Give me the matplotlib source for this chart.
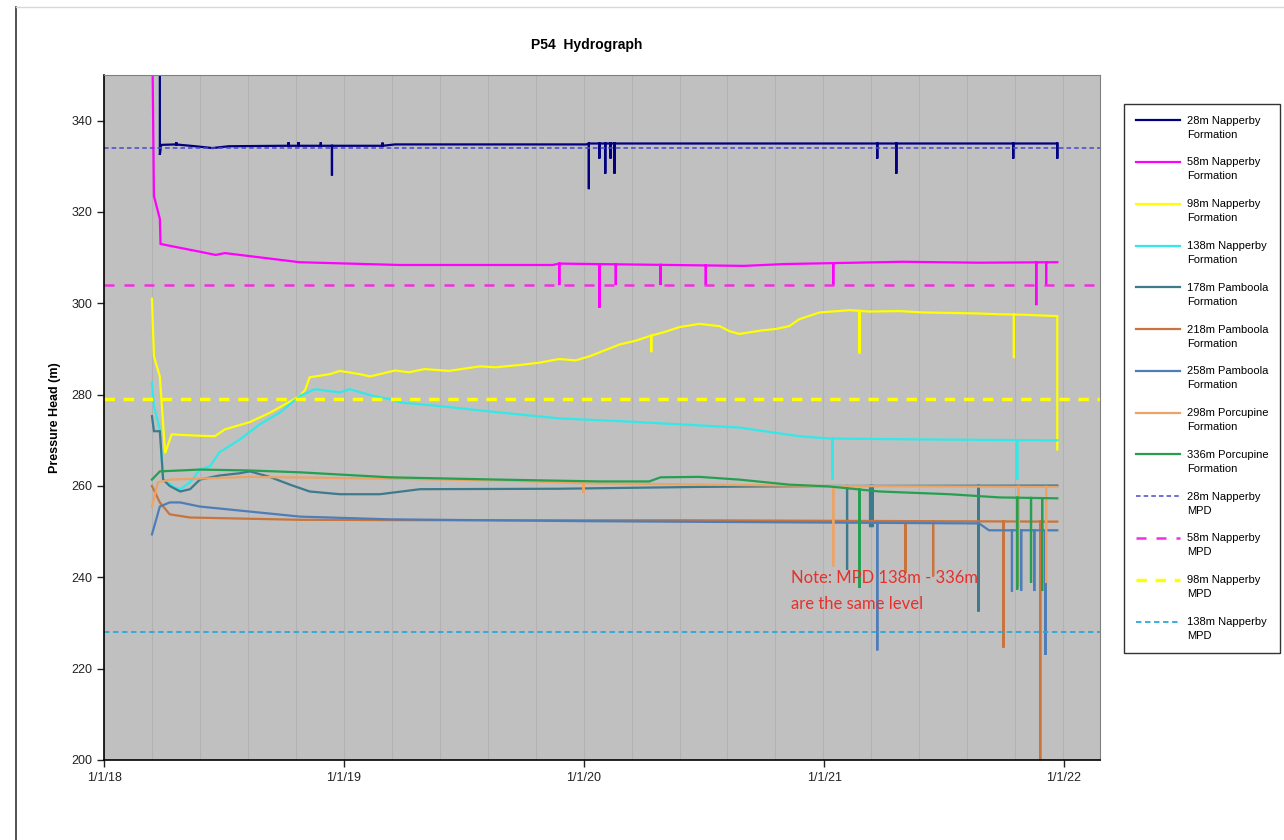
import numpy as np
import matplotlib
matplotlib.use("Agg")
import matplotlib.pyplot as plt
import matplotlib.dates as mdates
from matplotlib.lines import Line2D

plt.rcParams['font.family'] = ['Liberation Sans', 'DejaVu Sans']

s28_dates = ["2018-03-27", "2018-03-27", "2018-03-29", "2018-04-20", "2018-05-20", "2018-06-15",
             "2018-07-10", "2018-10-01", "2019-03-01", "2019-03-20", "2020-01-05", "2020-01-09", "2021-12-22"]
s28_vals = [362, 332.5, 334.7, 334.8, 334.4, 334.0, 334.4, 334.5, 334.5, 334.8, 334.8, 335.0, 335.0]
s28_spike_dates = ["2018-04-21", "2018-10-09", "2018-10-24", "2018-11-27", "2018-12-14", "2019-03-01",
                   "2020-01-09", "2020-01-25", "2020-02-03", "2020-02-11", "2020-02-17",
                   "2021-03-23", "2021-04-21", "2021-10-16", "2021-12-22"]
s28_spike_vals = [335.3, 335.3, 335.3, 335.3, 328.0, 335.2,
                  325.0, 331.7, 328.4, 331.7, 328.4, 331.7, 328.4, 331.7, 331.7]

s58_dates = ["2018-03-15", "2018-03-18", "2018-03-27", "2018-03-28", "2018-05-27", "2018-06-20",
             "2018-07-04", "2018-10-26", "2019-03-27", "2019-11-15", "2019-11-25", "2020-09-01",
             "2020-11-01", "2021-04-30", "2021-08-25", "2021-12-22"]
s58_vals = [365, 323.5, 318.5, 313.0, 311.3, 310.6, 311.0, 309.0, 308.4, 308.4, 308.7, 308.2,
            308.6, 309.1, 308.9, 309.0]
s58_spike_dates = ["2019-11-25", "2020-01-25", "2020-02-19", "2020-04-27", "2020-07-05",
                   "2021-01-15", "2021-11-20", "2021-12-05"]
s58_spike_vals = [304, 299, 304, 304, 304, 304, 299.6, 304]

s98_dates = ["2018-03-15", "2018-03-18", "2018-03-27", "2018-04-04", "2018-04-14", "2018-05-27",
             "2018-06-19", "2018-07-04", "2018-08-11", "2018-09-10", "2018-10-26", "2018-11-03",
             "2018-11-10", "2018-12-11", "2018-12-26", "2019-01-25", "2019-02-10", "2019-02-25",
             "2019-03-20", "2019-04-10", "2019-05-04", "2019-06-10", "2019-07-27", "2019-08-20",
             "2019-09-26", "2019-10-25", "2019-11-25", "2019-12-20", "2020-01-10", "2020-02-25",
             "2020-03-20", "2020-04-10", "2020-05-05", "2020-05-26", "2020-06-25", "2020-07-26",
             "2020-08-10", "2020-08-25", "2020-09-25", "2020-10-20", "2020-11-09", "2020-11-24",
             "2020-12-25", "2021-02-09", "2021-03-10", "2021-04-26", "2021-06-01", "2021-07-11",
             "2021-08-20", "2021-09-25", "2021-11-01", "2021-12-22", "2021-12-22"]
s98_vals = [301, 288.4, 284.0, 267.2, 271.3, 271.0, 270.9, 272.4, 274.0, 276.0, 279.7, 281.0,
            283.8, 284.5, 285.2, 284.5, 284.0, 284.5, 285.3, 284.9, 285.6, 285.2, 286.2, 286.0,
            286.5, 287.0, 287.8, 287.5, 288.4, 291.0, 291.8, 292.8, 293.8, 294.8, 295.5, 295.0,
            293.9, 293.3, 294.0, 294.4, 295.0, 296.5, 298.0, 298.5, 298.2, 298.3, 298.0, 297.9,
            297.8, 297.6, 297.5, 297.2, 268.0]
s98_spike_dates = ["2020-04-13", "2021-02-24", "2021-10-17"]
s98_spike_vals = [289.3, 289.0, 288.0]

s138_dates = ["2018-03-15", "2018-03-18", "2018-03-27", "2018-04-01", "2018-04-19", "2018-04-27",
              "2018-05-12", "2018-05-27", "2018-06-11", "2018-06-26", "2018-07-27", "2018-08-26",
              "2018-09-26", "2018-10-26", "2018-11-18", "2018-12-26", "2019-01-10", "2019-02-10",
              "2019-03-12", "2019-03-27", "2019-05-27", "2019-08-26", "2019-11-25", "2020-02-25",
              "2020-05-26", "2020-08-25", "2020-11-24", "2021-01-09", "2021-05-26", "2021-12-22"]
s138_vals = [282.7, 277.5, 272.4, 261.4, 259.7, 259.3, 260.8, 263.6, 264.3, 267.4, 270.2, 273.5,
             276.1, 279.7, 281.2, 280.5, 281.2, 279.9, 279.0, 278.3, 277.5, 276.1, 274.8, 274.2,
             273.5, 272.8, 270.9, 270.4, 270.2, 270.0]
s138_spike_dates = ["2021-01-14", "2021-10-22"]
s138_spike_vals = [261.4, 261.4]

s178_dates = ["2018-03-15", "2018-03-18", "2018-03-27", "2018-04-01", "2018-04-11", "2018-04-27",
              "2018-05-12", "2018-05-27", "2018-06-26", "2018-07-27", "2018-08-11", "2018-09-10",
              "2018-10-11", "2018-11-10", "2018-12-26", "2019-02-25", "2019-04-27", "2019-11-25",
              "2020-06-25", "2021-01-09", "2021-12-22"]
s178_vals = [275.3, 272.0, 272.0, 261.4, 260.0, 258.8, 259.3, 261.4, 262.3, 262.8, 263.2, 262.0,
             260.3, 258.8, 258.2, 258.2, 259.3, 259.4, 259.8, 260.0, 260.1]
s178_spike_dates = ["2021-02-05", "2021-03-12", "2021-03-14", "2021-03-16", "2021-08-24"]
s178_spike_vals = [241.7, 251.0, 251.0, 251.0, 232.5]

s218_dates = ["2018-03-15", "2018-03-27", "2018-04-11", "2018-05-12", "2018-10-26", "2019-06-01",
              "2020-06-01", "2021-06-01", "2021-12-22"]
s218_vals = [260.0, 256.4, 253.8, 253.1, 252.6, 252.5, 252.5, 252.3, 252.2]
s218_spike_dates = ["2021-05-05", "2021-06-16", "2021-10-01", "2021-11-26"]
s218_spike_vals = [241.0, 240.2, 224.6, 200.0]

s258_dates = ["2018-03-15", "2018-03-27", "2018-04-11", "2018-04-27", "2018-05-27", "2018-08-11",
              "2018-10-26", "2019-03-12", "2020-01-01", "2021-01-01", "2021-08-25", "2021-09-09",
              "2021-12-22"]
s258_vals = [249.4, 255.5, 256.4, 256.4, 255.5, 254.4, 253.3, 252.7, 252.3, 252.0, 251.8, 250.3,
             250.3]
s258_spike_dates = ["2021-03-23", "2021-10-14", "2021-10-28", "2021-11-17", "2021-12-04"]
s258_spike_vals = [224.0, 236.9, 237.0, 237.0, 223.0]

s298_dates = ["2018-03-15", "2018-03-24", "2018-04-11", "2018-08-11", "2019-03-12", "2019-09-01",
              "2020-01-01", "2020-09-01", "2021-01-01", "2021-12-22"]
s298_vals = [255.5, 260.8, 261.4, 262.0, 261.6, 261.2, 260.6, 260.2, 260.0, 259.8]
s298_spike_dates = ["2020-01-01", "2021-01-15", "2021-10-24", "2021-12-05"]
s298_spike_vals = [258.5, 242.4, 238.0, 238.8]

s336_dates = ["2018-03-15", "2018-03-27", "2018-05-27", "2018-08-11", "2018-10-26", "2019-03-12",
              "2019-08-26", "2020-01-25", "2020-04-10", "2020-04-27", "2020-06-25", "2020-08-25",
              "2020-11-09", "2021-01-09", "2021-03-26", "2021-07-11", "2021-09-25", "2021-12-22"]
s336_vals = [261.4, 263.2, 263.6, 263.4, 263.0, 261.9, 261.4, 261.0, 261.0, 261.9, 262.0, 261.4,
             260.3, 259.9, 258.8, 258.2, 257.5, 257.3]
s336_spike_dates = ["2021-02-24", "2021-10-22", "2021-11-12", "2021-11-29"]
s336_spike_vals = [237.7, 237.3, 238.8, 237.0]

mpd_levels = [334.0, 304.0, 279.0, 228.0]

series_labels = ["28m Napperby\nFormation", "58m Napperby\nFormation", "98m Napperby\nFormation",
                 "138m Napperby\nFormation", "178m Pamboola\nFormation", "218m Pamboola\nFormation",
                 "258m Pamboola\nFormation", "298m Porcupine\nFormation", "336m Porcupine\nFormation"]
mpd_labels = ["28m Napperby\nMPD", "58m Napperby\nMPD", "98m Napperby\nMPD", "138m Napperby\nMPD"]

series_colors = ["#000080", "#FF00FF", "#FFFF00", "#33E8E8", "#3D7A8C", "#C8743C",
                 "#4F7DB8", "#EBA366", "#25A050"]
mpd_colors = ["#4A4ACD", "#F030E0", "#FFFF00", "#2AA8D8"]


def with_spikes(dates, vals, sdates, svals):
    # insert vertical spikes (base -> spike -> base) into a series
    x = mdates.datestr2num(dates)
    y = np.array(vals, dtype=float)
    for d, v in zip(mdates.datestr2num(sdates), svals):
        base = np.interp(d, x, y)
        i = np.searchsorted(x, d, side='right')
        x = np.insert(x, i, [d, d, d])
        y = np.insert(y, i, [base, v, base])
    return x, y


all_series = [
    (s28_dates, s28_vals, s28_spike_dates, s28_spike_vals),
    (s58_dates, s58_vals, s58_spike_dates, s58_spike_vals),
    (s98_dates, s98_vals, s98_spike_dates, s98_spike_vals),
    (s138_dates, s138_vals, s138_spike_dates, s138_spike_vals),
    (s178_dates, s178_vals, s178_spike_dates, s178_spike_vals),
    (s218_dates, s218_vals, s218_spike_dates, s218_spike_vals),
    (s258_dates, s258_vals, s258_spike_dates, s258_spike_vals),
    (s298_dates, s298_vals, s298_spike_dates, s298_spike_vals),
    (s336_dates, s336_vals, s336_spike_dates, s336_spike_vals),
]

fig = plt.figure(figsize=(12.84, 8.40), dpi=100)
ax = fig.add_axes([104/1284, 80/840, 996/1284, 685/840])
ax.set_facecolor("#C0C0C0")

x0 = mdates.datestr2num("2018-01-01")
x1 = x0 + 1516

# light vertical gridlines every 73 days
for g in np.arange(x0, x1, 73):
    ax.axvline(g, color="#B2B2B2", lw=0.8, zorder=0)

handles = []
for (d, v, sd, sv), lab, col in zip(all_series, series_labels, series_colors):
    x, y = with_spikes(d, v, sd, sv)
    h, = ax.plot(x, y, color=col, lw=1.6, label=lab, solid_joinstyle='miter')
    handles.append(h)

mpd_styles = [(1.1, (0, (3, 2))), (1.8, (0, (4, 4))), (2.5, (0, (3, 2.5))), (1.3, (0, (3, 2)))]
for lev, lab, col, (lw, ls) in zip(mpd_levels, mpd_labels, mpd_colors, mpd_styles):
    h = ax.axhline(lev, color=col, lw=lw, linestyle=ls, label=lab)
    handles.append(h)

ax.set_xlim(x0, x1)
ax.set_ylim(200, 350)
ax.set_yticks(np.arange(200, 341, 20))
ax.xaxis.set_major_locator(mdates.YearLocator())
ax.xaxis.set_major_formatter(plt.FuncFormatter(
    lambda v, p: "{}/{}/{}".format(mdates.num2date(v).month, mdates.num2date(v).day,
                                   mdates.num2date(v).strftime("%y"))))
ax.tick_params(axis='both', labelsize=9, colors="#222222", length=5, width=1, direction='out')
for s in ["top", "right"]:
    ax.spines[s].set_color("#808080")
for s in ["left", "bottom"]:
    ax.spines[s].set_color("black")
    ax.spines[s].set_linewidth(1.2)

ax.set_ylabel("Pressure Head (m)", fontsize=9, fontweight='bold', labelpad=7)

fig.text(587/1284, 1 - 45/840, "P54  Hydrograph", ha='center', va='center',
         fontsize=10, fontweight='bold')

fig.text(791/1284, 1 - 591/840, "Note: MPD 138m - 336m\nare the same level", ha='left',
         va='center', color="#E8302A", fontsize=12, family=['Lato', 'DejaVu Sans'],
         linespacing=1.75)

leg = fig.legend(handles=handles, loc='upper left', bbox_to_anchor=(1124/1284, 1 - 104/840),
                 fontsize=8, frameon=True, fancybox=False, edgecolor='black', borderaxespad=0,
                 handlelength=4.0, handletextpad=0.6, labelspacing=1.6, borderpad=1.05)
leg.get_frame().set_linewidth(1.0)
for t in leg.get_texts():
    t.set_linespacing(1.5)
# put each legend line level with the first line of its label
for lh in leg.legend_handles:
    lh.set_ydata(np.asarray(lh.get_ydata()) + 5.4)

# outer chart frame
fig.add_artist(Line2D([16/1284, 16/1284], [0, 1 - 7/840], color="#333333", lw=1.2))
fig.add_artist(Line2D([16/1284, 1], [1 - 7/840, 1 - 7/840], color="#D8D8D8", lw=1.0))

fig.savefig("out.png", dpi=100)
